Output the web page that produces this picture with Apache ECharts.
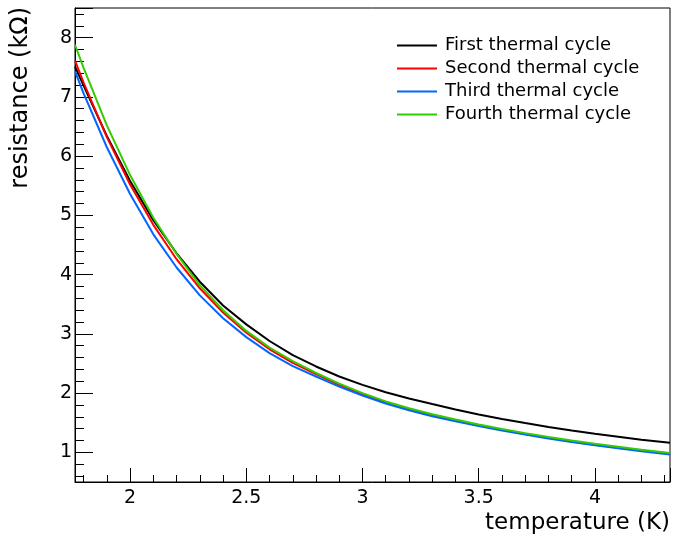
<!DOCTYPE html>
<html>
<head>
<meta charset="utf-8">
<script src="https://cdn.jsdelivr.net/npm/echarts@6/dist/echarts.min.js"></script>
<style>
html,body{margin:0;padding:0;background:#fff;}
#chart{width:673px;height:537px;}
</style>
</head>
<body>
<div id="chart"></div>
<script>
// Temperatures (K)
const temperature = [1.763, 1.8, 1.9, 2.0, 2.1, 2.2, 2.3, 2.4, 2.5, 2.6, 2.7, 2.8, 2.9, 3.0, 3.1, 3.2, 3.3, 3.4, 3.5, 3.6, 3.7, 3.8, 3.9, 4.0, 4.1, 4.2, 4.323];
// Resistance (kOhm) per thermal cycle
const firstCycle  = [7.51, 7.19, 6.34, 5.58, 4.92, 4.36, 3.88, 3.48, 3.16, 2.88, 2.64, 2.45, 2.28, 2.14, 2.015, 1.91, 1.815, 1.725, 1.64, 1.565, 1.495, 1.43, 1.37, 1.315, 1.265, 1.215, 1.164];
const secondCycle = [7.61, 7.24, 6.32, 5.52, 4.84, 4.26, 3.77, 3.36, 3.02, 2.74, 2.51, 2.32, 2.14, 1.985, 1.845, 1.73, 1.63, 1.54, 1.455, 1.38, 1.31, 1.245, 1.185, 1.13, 1.08, 1.03, 0.975];
const thirdCycle  = [7.43, 7.06, 6.15, 5.36, 4.68, 4.12, 3.65, 3.265, 2.945, 2.675, 2.455, 2.28, 2.11, 1.96, 1.825, 1.71, 1.61, 1.525, 1.445, 1.37, 1.30, 1.235, 1.175, 1.12, 1.07, 1.02, 0.965];
const fourthCycle = [7.88, 7.49, 6.52, 5.68, 4.96, 4.35, 3.82, 3.40, 3.05, 2.77, 2.54, 2.34, 2.16, 2.00, 1.86, 1.745, 1.645, 1.555, 1.47, 1.395, 1.325, 1.26, 1.20, 1.145, 1.095, 1.045, 0.99];
const seriesNames = ['First thermal cycle', 'Second thermal cycle', 'Third thermal cycle', 'Fourth thermal cycle'];
const seriesColors = ['#000000', '#ff0000', '#0066ff', '#33cc00'];
const xTitle = 'temperature (K)';
const yTitle = 'resistance (kΩ)';

const FONT = 'DejaVu Sans';
const allSeries = [firstCycle, secondCycle, thirdCycle, fourthCycle];
const chart = echarts.init(document.getElementById('chart'), null, {renderer: 'canvas'});

chart.setOption({
  animation: false,
  backgroundColor: '#fff',
  grid: {left: 75, top: 8, right: 3, bottom: 55, show: true, borderColor: '#000', borderWidth: 1, backgroundColor: 'transparent'},
  legend: {
    orient: 'vertical', left: 392, top: 31.5, itemWidth: 40, itemHeight: 2, itemGap: 5, icon: 'rect',
    textStyle: {fontFamily: FONT, fontSize: 18, color: '#000', lineHeight: 17, padding: [0, 0, 0, 3]},
    data: seriesNames
  },
  xAxis: {
    type: 'value', min: 1.763, max: 4.323, minInterval: 0.5, maxInterval: 0.5,
    axisLine: {show: true, lineStyle: {color: '#000', width: 1}},
    axisTick: {show: true, inside: true, length: 14, lineStyle: {color: '#000', width: 1}},
    minorTick: {show: true, splitNumber: 5, length: 7, lineStyle: {color: '#000', width: 1}},
    axisLabel: {
      fontFamily: FONT, fontSize: 19, color: '#000', margin: 7,
      formatter: v => (Math.abs(v * 2 - Math.round(v * 2)) < 1e-9 ? String(+v.toFixed(1)) : '')
    },
    splitLine: {show: false}
  },
  yAxis: {
    type: 'value', min: 0.5, max: 8.5, minInterval: 1, maxInterval: 1,
    axisLine: {show: true, lineStyle: {color: '#000', width: 1}},
    axisTick: {show: true, inside: true, length: 18, lineStyle: {color: '#000', width: 1}},
    minorTick: {show: true, splitNumber: 5, length: 9, lineStyle: {color: '#000', width: 1}},
    axisLabel: {
      fontFamily: FONT, fontSize: 19, color: '#000', margin: 3,
      formatter: v => (Math.abs(v - Math.round(v)) < 1e-9 ? String(Math.round(v)) : '')
    },
    splitLine: {show: false}
  },
  graphic: [
    {type: 'text', x: 670, y: 523, style: {text: xTitle, fontFamily: FONT, fontSize: 23, fill: '#000', textAlign: 'right', textVerticalAlign: 'middle'}},
    {type: 'text', x: 21, y: 7, rotation: Math.PI / 2, style: {text: yTitle, fontFamily: FONT, fontSize: 24, fill: '#000', textAlign: 'right', textVerticalAlign: 'middle'}}
  ],
  series: allSeries.map((vals, i) => ({
    name: seriesNames[i],
    type: 'line',
    symbol: 'none',
    showSymbol: false,
    smooth: false,
    clip: true,
    color: seriesColors[i],
    lineStyle: {color: seriesColors[i], width: 2},
    data: temperature.map((t, j) => [t, vals[j]])
  }))
});
</script>
</body>
</html>
